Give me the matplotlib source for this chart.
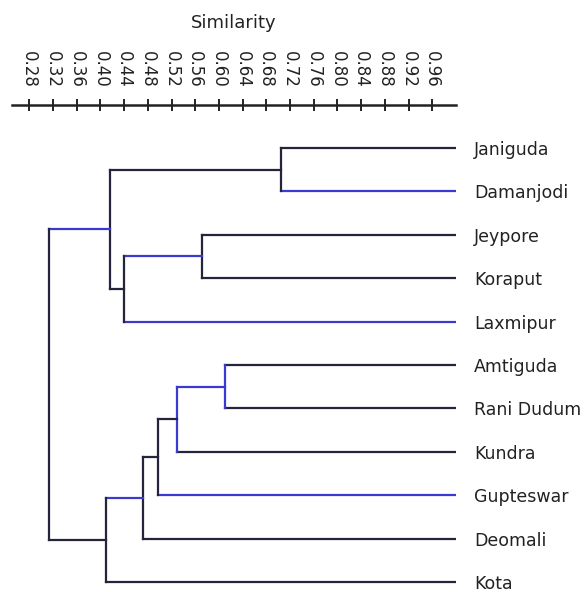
import matplotlib
matplotlib.use("Agg")
import matplotlib.pyplot as plt

# ---- data ----
leaves = ["Janiguda", "Damanjodi", "Jeypore", "Koraput", "Laxmipur",
          "Amtiguda", "Rani Dudum", "Kundra", "Gupteswar", "Deomali", "Kota"]
# merges: (child_a, child_b, similarity); new clusters numbered from len(leaves)
merge_a = [0, 2, 12, 11, 5, 15, 16, 17, 18, 14]
merge_b = [1, 3, 4, 13, 6, 7, 8, 9, 10, 19]
merge_sim = [0.704, 0.571, 0.439, 0.416, 0.611, 0.530, 0.498, 0.472, 0.409, 0.313]
leaf_sim = 1.0
tick_values = [0.28, 0.32, 0.36, 0.40, 0.44, 0.48, 0.52, 0.56, 0.60, 0.64,
               0.68, 0.72, 0.76, 0.80, 0.84, 0.88, 0.92, 0.96]
tick_labels = ["0.28", "0.32", "0.36", "0.40", "0.44", "0.48", "0.52", "0.56", "0.60",
               "0.64", "0.68", "0.72", "0.76", "0.80", "0.84", "0.88", "0.92", "0.96"]

# ---- styles (segment colours: branch to a, vertical, branch to b) ----
D = "#24243c"
B = "#3a3ad2"
seg_colors = [
    (D, D, B),
    (D, D, D),
    (B, D, B),
    (D, D, D),
    (D, B, D),
    (B, B, D),
    (D, D, B),
    (D, D, D),
    (B, D, D),
    (B, D, D),
]

W, H = 585, 592
fig = plt.figure(figsize=(W / 100, H / 100), dpi=100)
ax = fig.add_axes([11.5 / W, 0, (456 - 11.5) / W, (592 - 105) / H])
ax.set_xlim(0.25, 1.0)
ax.set_ylim(10.23, -0.99)

n = len(leaves)
pos_x = {i: leaf_sim for i in range(n)}
pos_y = {i: float(i) for i in range(n)}
lw = 1.6
for k, (a, b, s) in enumerate(zip(merge_a, merge_b, merge_sim)):
    node = n + k
    ya, yb = pos_y[a], pos_y[b]
    ca, cv, cb = seg_colors[k]
    ax.plot([s, pos_x[a]], [ya, ya], color=ca, lw=lw, solid_capstyle="projecting")
    ax.plot([s, pos_x[b]], [yb, yb], color=cb, lw=lw, solid_capstyle="projecting")
    ax.plot([s, s], [ya, yb], color=cv, lw=lw, solid_capstyle="projecting")
    pos_x[node] = s
    pos_y[node] = (ya + yb) / 2

for side in ["left", "right", "bottom"]:
    ax.spines[side].set_visible(False)
ax.spines["top"].set_linewidth(1.8)
ax.spines["top"].set_color("#222222")

ax.xaxis.tick_top()
ax.set_xticks(tick_values)
ax.set_xticklabels(tick_labels)
ax.tick_params(axis="x", direction="inout", length=9, width=1.4, pad=8.0,
               labelrotation=270, labelsize=12, colors="#222222")

ax.yaxis.tick_right()
ax.set_yticks(range(n))
ax.set_yticklabels(leaves)
ax.tick_params(axis="y", length=0, pad=13, labelsize=12.5, colors="#222222")

fig.text(234 / W, 1 - 23 / H, "Similarity", ha="center", va="center",
         fontsize=13, color="#222222")

fig.savefig("out.png", dpi=100)
